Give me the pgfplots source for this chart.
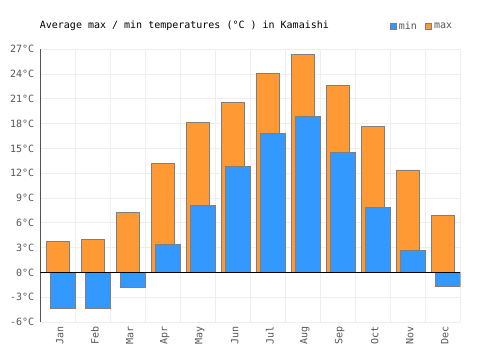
\documentclass[border=0pt]{standalone}
\usepackage{fontspec}
\setmainfont{DejaVu Sans Mono}
\usepackage{pgfplots}
\pgfplotsset{compat=1.18}
\definecolor{cblue}{HTML}{3399FF}
\definecolor{corange}{HTML}{FF9933}
\definecolor{cedge}{HTML}{7F7F7F}
\definecolor{cgrid}{HTML}{EEEEEE}
\definecolor{ctext}{HTML}{555555}
\begin{document}
\begin{tikzpicture}
\useasboundingbox (-40.3pt,-28pt) rectangle (459.7pt,322pt);
\begin{axis}[
  at={(0,0)}, anchor=south west,
  scale only axis, width=420pt, height=272.7pt,
  xmin=-0.5, xmax=11.5, ymin=-6, ymax=27,
  axis line style={draw=none},
  major tick length=0pt, minor tick length=0pt,
  xtick={0,...,11},
  xticklabels={Jan,Feb,Mar,Apr,May,Jun,Jul,Aug,Sep,Oct,Nov,Dec},
  minor xtick={-0.5,0.5,...,11.5},
  xminorgrids=true, xmajorgrids=false,
  ytick={-6,-3,...,27},
  yticklabels={-6°C,-3°C,0°C,3°C,6°C,9°C,12°C,15°C,18°C,21°C,24°C,27°C},
  ymajorgrids=true,
  grid style={cgrid, line width=0.8pt},
  minor grid style={cgrid, line width=0.8pt},
  xticklabel style={rotate=90, anchor=east, inner sep=0pt, xshift=-4pt, yshift=-2pt, text=ctext, font=\fontsize{10}{12}\selectfont},
  yticklabel style={anchor=east, inner sep=0pt, xshift=-6pt, text=ctext, font=\fontsize{10}{12}\selectfont},
  ybar, bar width=0.657,
  legend style={draw=none, fill=none, at={(1,1)}, anchor=south east, xshift=-6pt, yshift=16pt,
    legend columns=2, inner sep=0pt, text=ctext, font=\fontsize{10}{12}\selectfont,
    /tikz/every even column/.append style={column sep=6pt}},
  legend image code/.code={\draw[#1] (0pt,-3.2pt) rectangle (6.4pt,3.2pt);},
]
\addplot[forget plot, fill=corange, draw=cedge, line width=0.8pt, bar width=0.657, bar shift=0] coordinates {
(0,3.7) (1,4.0) (2,7.3) (3,13.2) (4,18.2) (5,20.6) (6,24.1) (7,26.4) (8,22.6) (9,17.7) (10,12.4) (11,6.9)};
\addplot[forget plot, fill=cblue, draw=cedge, line width=0.8pt, bar width=0.70, bar shift=0.15] coordinates {
(0,-4.3) (1,-4.3) (2,-1.8) (3,3.4) (4,8.1) (5,12.8) (6,16.8) (7,18.9) (8,14.5) (9,7.9) (10,2.7) (11,-1.7)};
\addlegendimage{fill=cblue, draw=cedge, line width=0.8pt}
\addlegendentry{min}
\addlegendimage{fill=corange, draw=cedge, line width=0.8pt}
\addlegendentry{max}
\draw[black, line width=0.9pt] (axis cs:-0.5,0) -- (axis cs:11.5,0);
\draw[black, line width=0.9pt] (axis cs:-0.5,-6) -- (axis cs:-0.5,27);
\end{axis}
\node[anchor=base west, inner sep=0pt, font=\fontsize{10}{12}\selectfont] at (-0.6pt,293pt) {Average max / min temperatures (°C ) in Kamaishi};
\end{tikzpicture}
\end{document}
